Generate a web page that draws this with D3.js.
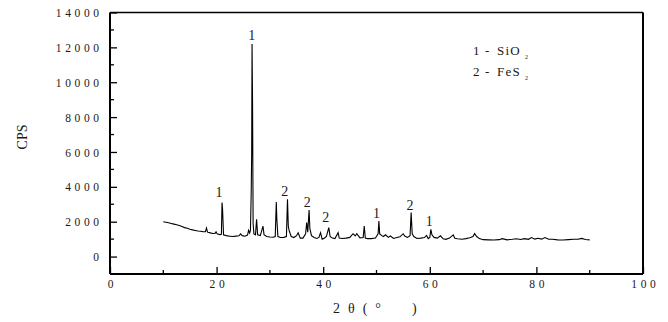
<!DOCTYPE html>
<html>
<head>
<meta charset="utf-8">
<script src="https://cdn.jsdelivr.net/npm/d3@7"></script>
<style>
  body { margin: 0; background: #fff; }
  svg { display: block; }
  text { font-family: "Liberation Serif", "Times New Roman", serif; fill: #1a1a1a; }
</style>
</head>
<body>
<svg id="chart" width="668" height="322"></svg>
<script>
// ---- data ----
const twoTheta = [
  10.0, 10.5, 11.0, 11.5, 12.0, 12.5, 13.0, 13.5, 14.0, 14.5, 15.0, 15.5, 16.0, 16.5, 17.0, 17.5,
  17.9, 18.1, 18.3, 18.8, 19.3, 19.7, 19.9, 20.1, 20.6, 20.9, 21.02, 21.12, 21.3, 21.8, 22.5, 23.0,
  23.6, 24.2, 24.5, 24.8, 25.3, 25.8, 26.0, 26.2, 26.35, 26.5, 26.58, 26.65, 26.75, 26.85, 27.0,
  27.3, 27.5, 27.7, 28.2, 28.7, 28.9, 29.4, 30.0, 30.6, 31.0, 31.2, 31.3, 31.5, 32.0, 32.6, 33.1,
  33.3, 33.45, 33.6, 34.0, 34.5, 35.0, 35.3, 35.7, 36.2, 36.7, 36.9, 37.1, 37.35, 37.5, 37.8, 38.3,
  38.8, 39.2, 39.5, 39.8, 40.2, 40.6, 41.05, 41.3, 41.7, 42.2, 42.8, 43.0, 43.6, 44.3, 45.0, 45.6,
  46.0, 46.3, 46.9, 47.5, 47.7, 47.9, 48.3, 49.0, 49.8, 50.3, 50.45, 50.6, 51.0, 51.3, 51.7, 52.2,
  52.6, 53.2, 53.8, 54.4, 55.0, 55.3, 55.8, 56.3, 56.5, 56.7, 57.0, 57.6, 58.3, 59.0, 59.4, 59.7,
  60.0, 60.2, 60.4, 60.8, 61.4, 62.0, 62.5, 63.0, 63.7, 64.4, 64.7, 65.2, 66.0, 66.8, 67.5, 68.1,
  68.4, 68.8, 69.3, 70.0, 71.0, 72.0, 73.0, 73.6, 74.5, 75.5, 76.3, 77.0, 77.8, 78.5, 79.1, 79.7,
  80.3, 81.0, 81.6, 82.3, 83.0, 84.0, 85.0, 86.0, 87.0, 87.8, 88.5, 89.2, 90.0
];
const cps = [
  2000, 1970, 1940, 1900, 1860, 1820, 1780, 1720, 1660, 1620, 1570, 1530, 1500, 1470, 1450, 1420,
  1430, 1640, 1400, 1360, 1320, 1330, 1420, 1300, 1260, 1280, 3100, 2700, 1250, 1200, 1170, 1150,
  1170, 1190, 1300, 1200, 1170, 1230, 1500, 1350, 1500, 3800, 5900, 12200, 8600, 1900, 1300,
  1250, 2140, 1250, 1200, 1750, 1250, 1150, 1120, 1110, 1150, 3130, 2170, 1150, 1090, 1100, 1150,
  3280, 1750, 1500, 1150, 1090, 1200, 1370, 1060, 1060, 1300, 1950, 1400, 2670, 1600, 1200, 1090,
  1040, 1100, 1370, 1000, 1050, 1150, 1660, 1150, 1060, 1030, 1370, 1060, 1040, 1060, 1100, 1310,
  1180, 1310, 1070, 1090, 1750, 1060, 1030, 1030, 1060, 1300, 2040, 1300, 1200, 1150, 1250, 1100,
  1180, 1040, 1090, 1130, 1310, 1180, 1100, 1200, 2520, 1300, 1150, 1040, 1060, 1090, 1210, 1030,
  1100, 1560, 1250, 1100, 1060, 1190, 1020, 990, 1060, 1240, 1050, 1020, 990, 1030, 1080, 1150,
  1320, 1150, 1030, 970, 960, 950, 970, 1030, 960, 990, 1020, 980, 1030, 990, 1090, 1000,
  1050, 1000, 1090, 990, 990, 960, 950, 970, 990, 990, 1040, 980, 960
];

const peakLabelText  = ["1", "1", "2", "2", "2", "1", "2", "1"];
const peakLabelTheta = [26.58, 20.45, 32.8, 37.0, 40.5, 50.0, 56.3, 59.9];
const peakLabelCps   = [12450, 3400, 3460, 2830, 1970, 2190, 2650, 1740];
const peakLabelColor = ["#111", "#111", "#111", "#111", "#111", "#7a1010", "#111", "#111"];

const legendIndex   = ["1", "2"];
const legendPhase   = ["SiO", "FeS"];
const legendSub     = ["2", "2"];
const legendTheta   = [68.1, 68.1];
const legendCps     = [11590, 10330];

const xTickValues = [0, 20, 40, 60, 80, 100];
const yTickValues = [0, 2000, 4000, 6000, 8000, 10000, 12000, 14000];
const xMinorTicks = [10, 30, 50, 70, 90];
const yMinorTicks = [-1000, 1000, 3000, 5000, 7000, 9000, 11000, 13000];

const xTitle = "2θ(°\u00A0\u00A0)";
const yTitle = "CPS";

// ---- layout ----
const svg = d3.select("#chart");
const L = 110, R = 643, T = 12.5, B = 274;
const x = d3.scaleLinear().domain([0, 100]).range([L, R]);
const y = d3.scaleLinear().domain([-1000, 14000]).range([B, T]);

// frame (top & right)
svg.append("line").attr("x1", L).attr("x2", R).attr("y1", T).attr("y2", T)
  .attr("stroke", "#000").attr("stroke-width", 1.5);
svg.append("line").attr("x1", R).attr("x2", R).attr("y1", T).attr("y2", B)
  .attr("stroke", "#000").attr("stroke-width", 2);

// axes
const xAxis = d3.axisBottom(x).tickValues(xTickValues).tickSize(-7).tickPadding(6)
  .tickFormat(d3.format("d"));
const gx = svg.append("g").attr("transform", `translate(0,${B})`).call(xAxis);
const yAxis = d3.axisLeft(y).tickValues(yTickValues).tickSize(-7).tickPadding(11)
  .tickFormat(d3.format("d"));
const gy = svg.append("g").attr("transform", `translate(${L},0)`).call(yAxis);

[gx, gy].forEach(g => {
  g.select(".domain").attr("stroke", "#000").attr("stroke-width", 2);
  g.selectAll(".tick line").attr("stroke", "#000").attr("stroke-width", 1.3);
  g.selectAll(".tick text")
    .style("font-family", '"Liberation Serif", serif')
    .style("font-size", "11.5px")
    .style("letter-spacing", "3.6px")
    .attr("fill", "#222");
});
gx.select(".domain").attr("d", `M${L},0H${R}`);
gy.select(".domain").attr("d", `M0,${B}V${T}`);
gx.selectAll(".tick text").attr("dx", "1.8px");
gy.selectAll(".tick text").attr("dx", "3.6px").attr("dy", "0.36em");

// minor ticks
svg.append("g").selectAll("line").data(xMinorTicks).join("line")
  .attr("x1", d => x(d)).attr("x2", d => x(d)).attr("y1", B).attr("y2", B - 4)
  .attr("stroke", "#000").attr("stroke-width", 1.3);
svg.append("g").selectAll("line").data(yMinorTicks).join("line")
  .attr("x1", L).attr("x2", L + 4).attr("y1", d => y(d)).attr("y2", d => y(d))
  .attr("stroke", "#000").attr("stroke-width", 1.3);

// pattern line
const pts = twoTheta.map((t, i) => [t, cps[i]]);
svg.append("path").datum(pts)
  .attr("fill", "none").attr("stroke", "#000").attr("stroke-width", 1.1)
  .attr("stroke-linejoin", "miter")
  .attr("d", d3.line().x(d => x(d[0])).y(d => y(d[1])));

// peak labels
svg.append("g").selectAll("text").data(peakLabelText).join("text")
  .attr("x", (d, i) => x(peakLabelTheta[i]))
  .attr("y", (d, i) => y(peakLabelCps[i]))
  .attr("text-anchor", "middle")
  .style("font-size", "14px")
  .attr("fill", (d, i) => peakLabelColor[i])
  .text(d => d);

// legend
const lg = svg.append("g");
legendIndex.forEach((k, i) => {
  const t = lg.append("text")
    .attr("x", x(legendTheta[i])).attr("y", y(legendCps[i]))
    .style("font-size", "13px").style("letter-spacing", "1.2px");
  t.append("tspan").text(k + " - ");
  t.append("tspan").attr("dx", 2).text(legendPhase[i]);
  t.append("tspan").attr("dx", 4).attr("dy", 4).style("font-size", "6px").text(legendSub[i]);
});

// axis titles
svg.append("text")
  .attr("x", 333).attr("y", 313)
  .style("font-size", "14px").style("letter-spacing", "8px")
  .text(xTitle);
svg.append("text")
  .attr("transform", "translate(27,137) rotate(-90)")
  .attr("text-anchor", "middle")
  .style("font-size", "14px")
  .text(yTitle);
</script>
</body>
</html>
